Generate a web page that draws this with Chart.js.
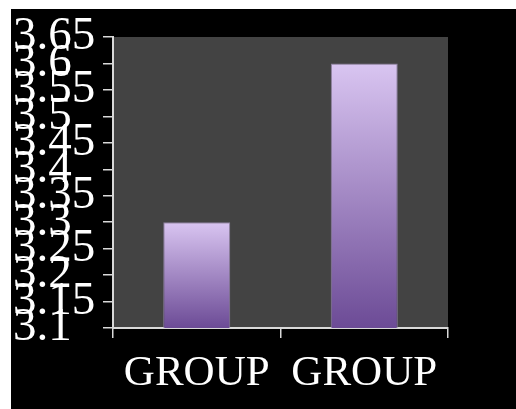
<!DOCTYPE html>
<html>
<head>
<meta charset="utf-8">
<script src="https://cdn.jsdelivr.net/npm/chart.js@4"></script>
<style>
  html, body { margin: 0; padding: 0; background: #000; overflow: hidden; width: 100%; height: 100%; }
  .edge { position: absolute; background: #fff; }
  #edgeTop { left: 0; top: 0; width: 100%; height: 9px; }
  #edgeLeft { left: 0; top: 0; width: 11px; height: 100%; }
  #wrap { position: absolute; left: 11px; top: 9px; width: 505px; height: 400px; background: #000; }
  canvas { display: block; }
</style>
</head>
<body>
<div class="edge" id="edgeTop"></div>
<div class="edge" id="edgeLeft"></div>
<div id="wrap"><canvas id="barChart" width="505" height="400"></canvas></div>
<script>
// Chart values
let categories = ["GROUP", "GROUP"];
let values = [3.3, 3.6];
let yTicks = [3.1, 3.15, 3.2, 3.25, 3.3, 3.35, 3.4, 3.45, 3.5, 3.55, 3.6, 3.65];
let yTickLabels = ["3.1", "3.15", "3.2", "3.25", "3.3", "3.35", "3.4", "3.45", "3.5", "3.55", "3.6", "3.65"];

// Grey plot area behind the bars
let plotBackground = {
  id: "plotBackground",
  beforeDraw(chart) {
    let { ctx, chartArea } = chart;
    ctx.save();
    ctx.fillStyle = "#434343";
    ctx.fillRect(chartArea.left, chartArea.top, chartArea.right - chartArea.left, chartArea.bottom - chartArea.top);
    ctx.restore();
  },
};

// Each bar gets its own light-to-dark purple gradient
function barGradient(context) {
  let chart = context.chart;
  let yScale = chart.scales.y;
  if (!yScale || context.dataIndex === undefined) return "#a58cc8";
  let top = yScale.getPixelForValue(values[context.dataIndex]);
  let bottom = yScale.getPixelForValue(yScale.min);
  if (!isFinite(top) || !isFinite(bottom) || top === bottom) return "#a58cc8";
  let g = chart.ctx.createLinearGradient(0, top, 0, bottom);
  g.addColorStop(0, "#d9c5f1");
  g.addColorStop(1, "#6c4b96");
  return g;
}

let ctx = document.getElementById("barChart").getContext("2d");
let barChart = new Chart(ctx, {
  type: "bar",
  data: {
    labels: categories,
    datasets: [
      {
        data: values,
        backgroundColor: barGradient,
        borderColor: "rgba(150,135,170,0.9)",
        borderWidth: 1,
        barPercentage: 0.4,
        categoryPercentage: 1,
      },
    ],
  },
  options: {
    responsive: false,
    animation: false,
    layout: { padding: { top: 28, left: 2, right: 68, bottom: 0 } },
    plugins: {
      legend: { display: false },
      tooltip: { enabled: false },
    },
    scales: {
      x: {
        grid: {
          offset: true,
          drawOnChartArea: false,
          color: "#d9d9d9",
          tickLength: 10,
          lineWidth: 1.5,
        },
        border: { color: "#d9d9d9", width: 2 },
        ticks: {
          color: "#ffffff",
          font: { family: "Liberation Serif", size: 43 },
          padding: 10,
          maxRotation: 0,
        },
        afterFit(scale) {
          scale.height = 81;
          scale.paddingLeft = 0;
          scale.paddingRight = 0;
        },
      },
      y: {
        min: 3.1,
        max: 3.65,
        afterBuildTicks(scale) {
          scale.ticks = yTicks.map((v) => ({ value: v }));
        },
        grid: {
          drawOnChartArea: false,
          color: "#d9d9d9",
          tickLength: 10,
          lineWidth: 1.5,
        },
        border: { color: "#d9d9d9", width: 2 },
        ticks: {
          autoSkip: false,
          crossAlign: "far",
          color: "#ffffff",
          font: { family: "Liberation Serif", size: 47 },
          callback: (value, index) => yTickLabels[index],
        },
        afterFit(scale) {
          scale.width = 100;
          scale.paddingTop = 0;
          scale.paddingBottom = 0;
        },
      },
    },
  },
  plugins: [plotBackground],
});
</script>
</body>
</html>
